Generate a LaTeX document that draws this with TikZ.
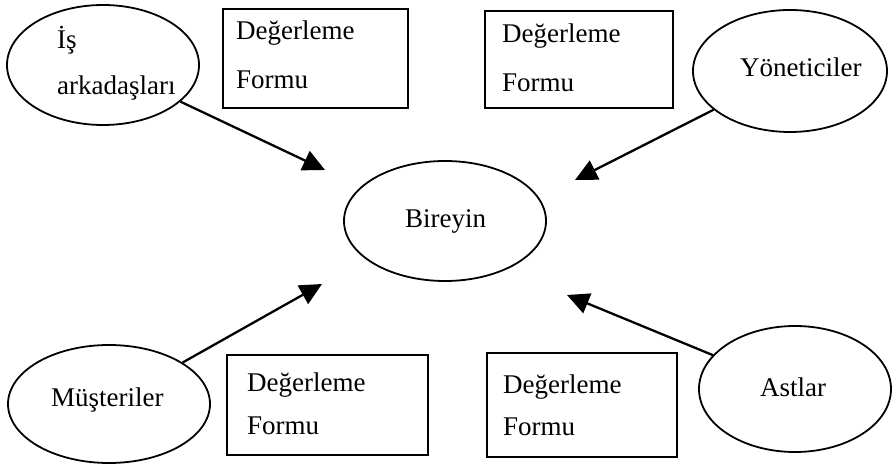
\documentclass[tikz,border=0pt]{standalone}
\usepackage{fontspec}
\setmainfont{Liberation Serif}
\usetikzlibrary{shapes.geometric,arrows.meta}
\begin{document}
\begin{tikzpicture}[x=1pt,y=-1pt,
  oval/.style={draw,ellipse,line width=1.8pt,inner sep=0pt},
  formbox/.style={draw,rectangle,line width=1.4pt,inner sep=0pt},
  lbl/.style={font=\fontsize{27}{32}\selectfont,anchor=base west,inner sep=0pt},
  arr/.style={line width=2.3pt,-{Triangle[length=22pt,width=21pt]}}]
\useasboundingbox (0,0) rectangle (892,465);
% ellipses
\node[oval,minimum width=192pt,minimum height=120pt] (is) at (103,65) {};
\node[oval,minimum width=194pt,minimum height=122pt] (yon) at (790,71) {};
\node[oval,minimum width=202pt,minimum height=120pt] (bir) at (445,221) {};
\node[oval,minimum width=202pt,minimum height=118pt] (mus) at (109,404) {};
\node[oval,minimum width=192pt,minimum height=126pt] (ast) at (795,389) {};
% ellipse texts
\node[lbl] (isA) at (57,49) {İş};
\node[lbl] (isB) at (57,95) {arkadaşları};
\node[lbl] (yonT) at (740,77) {Yöneticiler};
\node[lbl] (birT) at (405,228) {Bireyin};
\node[lbl] (musT) at (51,406) {Müşteriler};
\node[lbl] (astT) at (760,396) {Astlar};
% boxes
\node[formbox,minimum width=185pt,minimum height=99pt] (f1) at (315.5,58.5) {};
\node[formbox,minimum width=188pt,minimum height=97pt] (f2) at (579,59.5) {};
\node[formbox,minimum width=201pt,minimum height=100pt] (f3) at (327.5,405) {};
\node[formbox,minimum width=190pt,minimum height=104pt] (f4) at (582,405) {};
\node[lbl] (f1a) at (236,40) {Değerleme};
\node[lbl] (f1b) at (236,89) {Formu};
\node[lbl] (f2a) at (502,43) {Değerleme};
\node[lbl] (f2b) at (502,92) {Formu};
\node[lbl] (f3a) at (247,391) {Değerleme};
\node[lbl] (f3b) at (247,434) {Formu};
\node[lbl] (f4a) at (503,393) {Değerleme};
\node[lbl] (f4b) at (503,435) {Formu};
% arrow tips
\coordinate (t1) at (325,170);
\coordinate (t2) at (575,180);
\coordinate (t3) at (322,284);
\coordinate (t4) at (567,295);
\draw[arr] (is) -- (t1);
\draw[arr] (yon) -- (t2);
\draw[arr] (mus) -- (t3);
\draw[arr] (ast) -- (t4);
\end{tikzpicture}
\end{document}
